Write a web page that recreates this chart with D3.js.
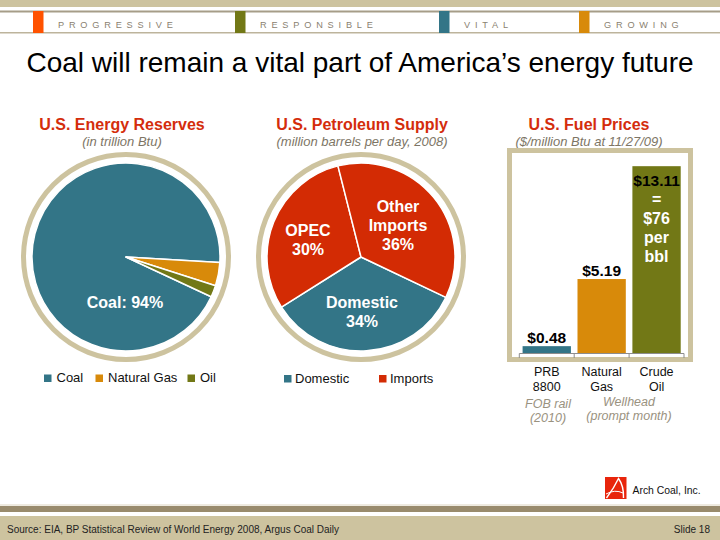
<!DOCTYPE html>
<html><head><meta charset="utf-8">
<script src="https://cdn.jsdelivr.net/npm/d3@7"></script>
<style>
html,body{margin:0;padding:0;background:#fff;}
svg{display:block;font-family:"Liberation Sans",Arial,Helvetica,sans-serif;}
</style></head>
<body>
<script>
// ---- data ----
const headerWords = ["PROGRESSIVE","RESPONSIBLE","VITAL","GROWING"];
const reserveLabels = ["Coal","Natural Gas","Oil"];
const reserveValues = [94, 4, 2];
const supplyLabels = ["Domestic","OPEC","Other Imports"];
const supplyValues = [34, 30, 36];
const supplyLegend = ["Domestic","Imports"];
const priceCategories = ["PRB 8800","Natural Gas","Crude Oil"];
const priceValues = [0.48, 5.19, 13.11];
const priceTickLabels = [["PRB","8800"],["Natural","Gas"],["Crude","Oil"]];
const priceValueLabels = ["$0.48","$5.19","$13.11"];
const crudeNote = ["=","$76","per","bbl"];

// ---- styles ----
const TAN="#CDC39F", DARKBAND="#998B6D", LINE="#A69D88";
const TEAL="#337587", GOLD="#D88A0A", OLIVE="#727816", RED="#D32B04", HRED="#FF5200";
const TITLE_RED="#D42D0C", GRAY_IT="#7D7565";

const W=720,H=540;
const svg=d3.select("body").append("svg").attr("width",W).attr("height",H);
svg.append("rect").attr("width",W).attr("height",H).attr("fill","#fff");

// ---- header ----
svg.append("rect").attr("x",0).attr("y",0).attr("width",W).attr("height",7).attr("fill",TAN);
svg.append("rect").attr("x",0).attr("y",10.5).attr("width",W).attr("height",2).attr("fill",LINE);
svg.append("rect").attr("x",0).attr("y",32).attr("width",W).attr("height",1.5).attr("fill","#BDB49C");
const headerColors=[HRED,OLIVE,TEAL,GOLD];
const headerX=[33,235,439,579];
headerWords.forEach((w,i)=>{
  svg.append("rect").attr("x",headerX[i]).attr("y",11).attr("width",10.5).attr("height",22).attr("fill",headerColors[i]);
  svg.append("text").attr("x",headerX[i]+25).attr("y",27.5).attr("font-size",9.2)
    .attr("letter-spacing",4.8).attr("fill","#8A8170").text(w);
});

// ---- title ----
svg.append("text").attr("x",360).attr("y",72).attr("text-anchor","middle")
  .attr("font-size",28).attr("fill","#000").text("Coal will remain a vital part of America\u2019s energy future");

function sectionTitle(cx,t,s){
  svg.append("text").attr("x",cx).attr("y",129.5).attr("text-anchor","middle")
    .attr("font-size",16).attr("font-weight","bold").attr("fill",TITLE_RED).text(t);
  svg.append("text").attr("x",cx).attr("y",146).attr("text-anchor","middle")
    .attr("font-size",13).attr("font-style","italic").attr("fill",GRAY_IT).text(s);
}
sectionTitle(122,"U.S. Energy Reserves","(in trillion Btu)");
sectionTitle(362,"U.S. Petroleum Supply","(million barrels per day, 2008)");
sectionTitle(589,"U.S. Fuel Prices","($/million Btu at 11/27/09)");

// ---- pie helper ----
const deg=Math.PI/180;
function drawPie(cx,cy,values,colors,startDeg){
  const g=svg.append("g").attr("transform",`translate(${cx},${cy})`);
  g.append("circle").attr("r",102.5).attr("fill","none").attr("stroke",TAN).attr("stroke-width",5);
  const pie=d3.pie().sort(null).startAngle(startDeg*deg).endAngle((startDeg+360)*deg);
  const arc=d3.arc().innerRadius(0).outerRadius(94);
  g.selectAll("path").data(pie(values)).join("path")
    .attr("d",arc).attr("fill",(d,i)=>colors[i]).attr("stroke","#fff").attr("stroke-width",1.5).attr("stroke-linejoin","round");
  return g;
}
function multiLabel(g,x,y,lines,opts){
  lines.forEach((l,i)=>{
    g.append("text").attr("x",x).attr("y",y+i*(opts.lh||19)).attr("text-anchor","middle")
      .attr("font-size",opts.size||16).attr("font-weight",opts.weight||"bold")
      .attr("font-style",opts.style||"normal").attr("fill",opts.fill||"#fff").text(l);
  });
}

// Pie 1: Energy reserves
const g1=drawPie(126,257,reserveValues,[TEAL,GOLD,OLIVE],115);
multiLabel(g1,-1,50.5,[`${reserveLabels[0]}: ${reserveValues[0]}%`],{});

// Pie 2: Petroleum supply
const g2=drawPie(361,257,supplyValues,[TEAL,RED,RED],115.4);
multiLabel(g2,1,50.5,[supplyLabels[0],supplyValues[0]+"%"],{lh:19.5});
multiLabel(g2,-53,-21.5,["OPEC",supplyValues[1]+"%"],{lh:19.5});
multiLabel(g2,37,-45.5,["Other","Imports",supplyValues[2]+"%"],{lh:19.3});

// Legends
function legend(items,colors,xs,y){
  items.forEach((t,i)=>{
    svg.append("rect").attr("x",xs[i][0]).attr("y",y-7.5).attr("width",7.5).attr("height",7.5).attr("fill",colors[i]);
    svg.append("text").attr("x",xs[i][1]).attr("y",y).attr("font-size",13).attr("fill","#111").text(t);
  });
}
legend(reserveLabels,[TEAL,GOLD,OLIVE],[[44,56.5],[95.5,108],[187.5,200]],382);
legend(supplyLegend,[TEAL,RED],[[284,295],[379,390]],382.5);

// ---- bar chart ----
svg.append("rect").attr("x",507.5).attr("y",148.5).attr("width",185).attr("height",213)
  .attr("fill","none").attr("stroke","#E6E0CC").attr("stroke-width",1);
svg.append("rect").attr("x",509.5).attr("y",150.5).attr("width",181).attr("height",209)
  .attr("fill","#fff").attr("stroke",TAN).attr("stroke-width",5);
const x=d3.scaleBand().domain(priceCategories).range([519.3,684]).paddingInner(0.12).paddingOuter(0.06);
const y=d3.scaleLinear().domain([0,14]).range([353,153.5]);
const barColors=[TEAL,GOLD,OLIVE];
svg.selectAll(".bar").data(priceValues).join("rect")
  .attr("x",(d,i)=>x(priceCategories[i])).attr("width",x.bandwidth())
  .attr("y",d=>y(d)).attr("height",d=>y(0)-y(d)).attr("fill",(d,i)=>barColors[i]);
// axis line & ticks
const step=x.step();
svg.append("line").attr("x1",519.3).attr("x2",684).attr("y1",353.5).attr("y2",353.5).attr("stroke","#8d8d8d").attr("stroke-width",1);
d3.range(priceCategories.length+1).forEach(i=>{
  const tx=519.3+i*step;
  svg.append("line").attr("x1",tx).attr("x2",tx).attr("y1",353.5).attr("y2",358).attr("stroke","#8d8d8d").attr("stroke-width",1);
});
// value labels
priceValues.forEach((v,i)=>{
  const cx=x(priceCategories[i])+x.bandwidth()/2;
  const yy = i<2 ? y(v)-3 : y(v)+19.5;
  svg.append("text").attr("x",cx).attr("y",yy).attr("text-anchor","middle")
    .attr("font-size",15.5).attr("font-weight","bold").attr("fill","#000").text(priceValueLabels[i]);
});
{
  const cx=x(priceCategories[2])+x.bandwidth()/2;
  crudeNote.forEach((t,i)=>{
    svg.append("text").attr("x",cx).attr("y",y(priceValues[2])+38.5+i*19).attr("text-anchor","middle")
      .attr("font-size",16).attr("font-weight","bold").attr("fill","#fff").text(t);
  });
}
// category labels
priceTickLabels.forEach((ls,i)=>{
  const cx=x(priceCategories[i])+x.bandwidth()/2;
  ls.forEach((l,j)=>{
    svg.append("text").attr("x",cx).attr("y",376+j*14.5).attr("text-anchor","middle")
      .attr("font-size",12.5).attr("fill","#111").text(l);
  });
});
// notes
multiLabel(svg,548,408,["FOB rail","(2010)"],{size:12.5,weight:"normal",style:"italic",fill:"#9A927F",lh:14});
multiLabel(svg,629,405.5,["Wellhead","(prompt month)"],{size:12.5,weight:"normal",style:"italic",fill:"#9A927F",lh:14});

// ---- logo ----
svg.append("rect").attr("x",605).attr("y",477).attr("width",21.5).attr("height",22).attr("fill","#E8250C");
svg.append("path").attr("d","M606.5,498 Q614,488 618.5,478.5 Q624,486 623.5,498").attr("fill","none").attr("stroke","#fff").attr("stroke-width",1.4);
svg.append("path").attr("d","M606,494 Q615,489 623,493").attr("fill","none").attr("stroke","#fff").attr("stroke-width",1);
svg.append("text").attr("x",632.5).attr("y",494).attr("font-size",10.4).attr("fill","#111").text("Arch Coal, Inc.");

// ---- footer ----
svg.append("rect").attr("x",0).attr("y",504.5).attr("width",W).attr("height",1).attr("fill","#DDD6C2");
svg.append("rect").attr("x",0).attr("y",506).attr("width",W).attr("height",6).attr("fill",DARKBAND);
svg.append("rect").attr("x",0).attr("y",516).attr("width",W).attr("height",24).attr("fill",TAN);
svg.append("text").attr("x",7).attr("y",533).attr("font-size",10).attr("fill","#222")
  .text("Source: EIA, BP Statistical Review of World Energy 2008, Argus Coal Daily");
svg.append("text").attr("x",710).attr("y",533).attr("text-anchor","end").attr("font-size",10).attr("fill","#222").text("Slide 18");
</script>
</body></html>
